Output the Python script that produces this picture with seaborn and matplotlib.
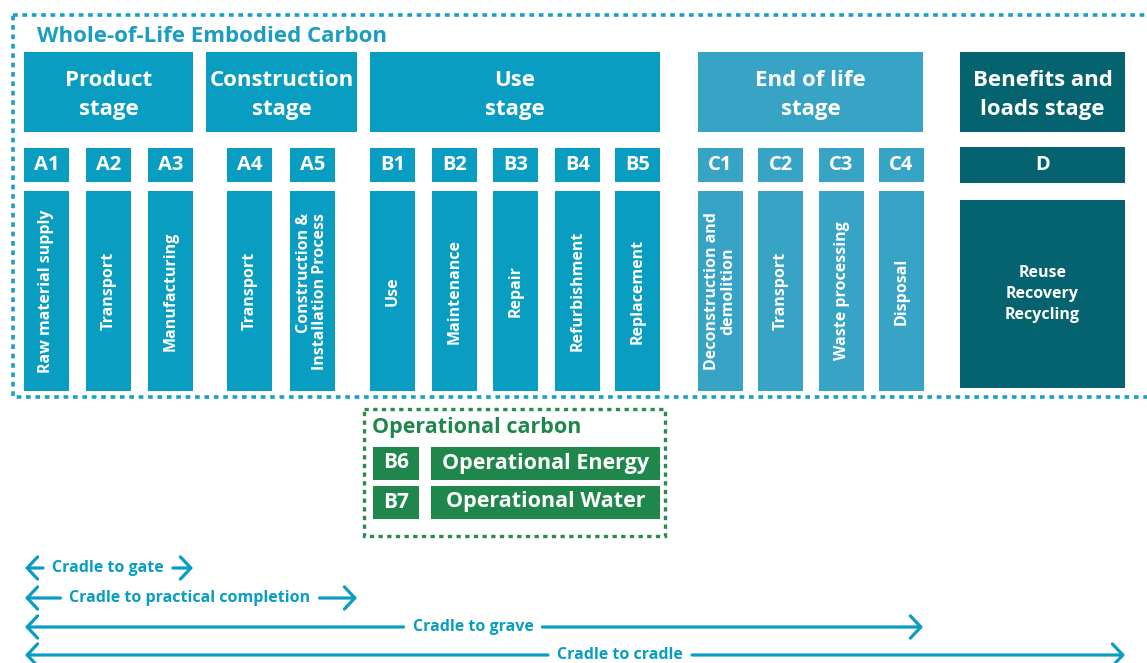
import matplotlib
matplotlib.use("Agg")
import matplotlib.pyplot as plt
from matplotlib.patches import Rectangle, FancyArrowPatch, ArrowStyle
import seaborn as sns

# --- content ---
title = 'Whole-of-Life Embodied Carbon'
stages = ['Product\nstage', 'Construction\nstage', 'Use\nstage', 'End of life\nstage', 'Benefits and\nloads stage']
modules = ['A1', 'A2', 'A3', 'A4', 'A5', 'B1', 'B2', 'B3', 'B4', 'B5', 'C1', 'C2', 'C3', 'C4']
module_desc = ['Raw material supply', 'Transport', 'Manufacturing', 'Transport',
               'Construction &\nInstallation Process', 'Use', 'Maintenance', 'Repair',
               'Refurbishment', 'Replacement', 'Deconstruction and\ndemolition', 'Transport',
               'Waste processing', 'Disposal']
module_stage = [0, 0, 0, 1, 1, 2, 2, 2, 2, 2, 3, 3, 3, 3]
d_code = 'D'
d_desc = 'Reuse\nRecovery\nRecycling'
oper_title = 'Operational carbon'
oper_codes = ['B6', 'B7']
oper_desc = ['Operational Energy', 'Operational Water']
scopes = ['Cradle to gate', 'Cradle to practical completion', 'Cradle to grave', 'Cradle to cradle']
scope_end_stage = [0, 1, 3, 4]

# --- layout (pixels) ---
stage_x0 = [24, 206, 370, 698, 960]
stage_x1 = [193, 357, 660, 923, 1125]
module_x = [24, 86, 148, 227, 290, 370, 432, 493, 555, 615, 698, 758, 819, 879]
module_w = 45
scope_y = [568, 598, 627, 655]
scope_tx = [108, 190, 473, 620]

sns.set_theme(style='white')
plt.rcParams['font.family'] = ['Open Sans', 'DejaVu Sans']

teal = '#0a9dc2'
light = '#37a3c5'
dark = '#05636f'
green = '#1f874b'
stage_col = [teal, teal, teal, light, dark]

fig = plt.figure(figsize=(11.47, 6.63), dpi=100)
ax = fig.add_axes([0, 0, 1, 1])
ax.set_xlim(0, 1147)
ax.set_ylim(663, 0)
ax.axis('off')

# outer dotted frame
ax.add_patch(Rectangle((13, 15), 1160, 382, fill=False, ec='#1aa0c2', lw=2.6,
                       ls=(0, (1.3, 1.3)), clip_on=True))
ax.text(37, 36, title, color='#1a9dc0', fontsize=16, fontweight='bold', va='center', ha='left')

# stage headers
for i, s in enumerate(stages):
    ax.add_patch(Rectangle((stage_x0[i], 52), stage_x1[i] - stage_x0[i], 80, color=stage_col[i], lw=0))
    ax.text((stage_x0[i] + stage_x1[i]) / 2, 95, s, color='white', fontsize=16, fontweight='bold',
            ha='center', va='center', linespacing=1.55)

# modules
for i, m in enumerate(modules):
    c = stage_col[module_stage[i]]
    x = module_x[i]
    ax.add_patch(Rectangle((x, 148), module_w, 34, color=c, lw=0))
    ax.text(x + module_w / 2, 165, m, color='white', fontsize=14.5, fontweight='bold', ha='center', va='center')
    ax.add_patch(Rectangle((x, 191), module_w, 200, color=c, lw=0))
    ma = 'right' if m == 'A5' else 'center'
    ax.text(x + module_w / 2, 291, module_desc[i], color='white', fontsize=11.5, fontweight='bold',
            ha='center', va='center', rotation=90, multialignment=ma, linespacing=1.0)

# D
ax.add_patch(Rectangle((960, 147), 165, 36, color=dark, lw=0))
ax.text(1042.5, 165, d_code, color='white', fontsize=14.5, fontweight='bold', ha='center', va='center')
ax.add_patch(Rectangle((960, 200), 165, 188, color=dark, lw=0))
ax.text(1042.5, 294, d_desc, color='white', fontsize=11.5, fontweight='bold', ha='center', va='center',
        linespacing=1.4)

# operational carbon
ax.add_patch(Rectangle((364, 409), 301, 127, fill=False, ec='#2a8a50', lw=2.4, ls=(0, (1.3, 1.3))))
ax.text(372, 427, oper_title, color=green, fontsize=15.5, fontweight='bold', ha='left', va='center')
for j, (c, d) in enumerate(zip(oper_codes, oper_desc)):
    y = 447 + j * 39
    ax.add_patch(Rectangle((373, y), 46, 33, color=green, lw=0))
    ax.text(396, y + 16, c, color='white', fontsize=15, fontweight='bold', ha='center', va='center')
    ax.add_patch(Rectangle((431, y), 229, 33, color=green, lw=0))
    ax.text(545.5, y + 16, d, color='white', fontsize=15.5, fontweight='bold', ha='center', va='center')

# scope arrows
fig.canvas.draw()
inv = ax.transData.inverted()
style = ArrowStyle('->', head_length=7.5, head_width=8)
for k, s in enumerate(scopes):
    y = scope_y[k]
    t = ax.text(scope_tx[k], y, s, color=teal, fontsize=11.5, fontweight='bold', ha='center', va='center')
    bb = t.get_window_extent(fig.canvas.get_renderer())
    (tx0, _), (tx1, _) = inv.transform([(bb.x0, bb.y0), (bb.x1, bb.y1)])
    x_end = stage_x1[scope_end_stage[k]]
    for a, b in [(tx0 - 9, 25), (tx1 + 9, x_end)]:
        ax.add_patch(FancyArrowPatch((a, y), (b, y), arrowstyle=style, mutation_scale=1,
                                     color=teal, lw=2.3, shrinkA=0, shrinkB=0))

fig.savefig('out.png', dpi=100)
